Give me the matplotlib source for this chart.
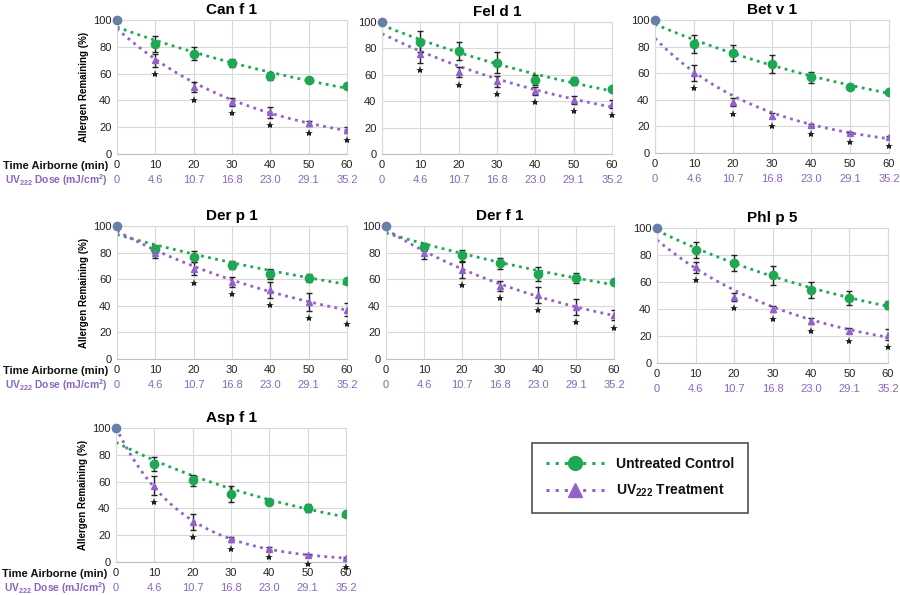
import numpy as np
import matplotlib
matplotlib.use("Agg")
from matplotlib import pyplot as plt
from matplotlib.lines import Line2D

plt.rcParams['font.family'] = ['Liberation Sans', 'DejaVu Sans']
plt.rcParams['mathtext.fontset'] = 'custom'
plt.rcParams['mathtext.rm'] = 'Liberation Sans'
plt.rcParams['mathtext.bf'] = 'Liberation Sans:bold'

GREEN = '#1fa854'
PURPLE = '#9461cc'
DOSE_COL = '#8866c0'
ZERO_COL = '#6880a8'

time_min = [0, 10, 20, 30, 40, 50, 60]
dose_lbl = ['0', '4.6', '10.7', '16.8', '23.0', '29.1', '35.2']

allergens = ['Can f 1', 'Fel d 1', 'Bet v 1', 'Der p 1', 'Der f 1', 'Phl p 5', 'Asp f 1']

ctrl_mean = [
    [100, 82, 75, 68, 58, 55, 51],
    [100, 85, 78, 69, 56, 55, 49],
    [100, 82, 75, 67, 57, 50, 46],
    [100, 83, 77, 71, 64, 61, 59],
    [100, 84, 78, 72, 64, 61, 58],
    [100, 84, 74, 65, 54, 48, 43],
    [100, 73, 61, 51, 45, 40, 36],
]
ctrl_err = [
    [0, 6, 5, 3, 3, 2, 2],
    [0, 8, 7, 8, 4, 3, 2],
    [0, 7, 6, 7, 4, 2, 1],
    [0, 3, 4, 3, 4, 3, 2],
    [0, 3, 4, 4, 5, 4, 2],
    [0, 6, 6, 7, 6, 5, 3],
    [0, 5, 4, 6, 2, 3, 1],
]
uv_mean = [
    [100, 70, 50, 39, 31, 23, 18],
    [100, 76, 62, 55, 48, 41, 38],
    [100, 60, 38, 28, 21, 15, 12],
    [100, 80, 68, 58, 52, 43, 37],
    [100, 80, 67, 55, 48, 39, 33],
    [100, 71, 49, 40, 31, 24, 21],
    [100, 57, 30, 17, 10, 5, 3],
]
uv_err = [
    [0, 5, 4, 3, 4, 2, 2],
    [0, 7, 4, 4, 3, 3, 3],
    [0, 6, 3, 2, 1, 1, 1],
    [0, 4, 5, 4, 6, 7, 5],
    [0, 5, 6, 4, 6, 6, 4],
    [0, 4, 3, 2, 2, 2, 4],
    [0, 7, 6, 2, 1, 1, 1],
]
# significant difference flags (asterisk)
signif = [
    [0, 1, 1, 1, 1, 1, 1],
    [0, 1, 1, 1, 1, 1, 1],
    [0, 1, 1, 1, 1, 1, 1],
    [0, 0, 1, 1, 1, 1, 1],
    [0, 0, 1, 1, 1, 1, 1],
    [0, 1, 1, 1, 1, 1, 1],
    [0, 1, 1, 1, 1, 1, 1],
]

# axes boxes in pixels: x0, x60, y100, y0
boxes = [
    (117, 347, 20, 154),
    (382, 612, 22, 154),
    (655, 889, 20, 153),
    (117, 347, 226, 359),
    (386, 614, 226, 359),
    (657, 888, 228, 363),
    (116, 346, 428, 562),
]
W, H = 900, 595

fig = plt.figure(figsize=(9, 5.95), dpi=100)

def exp_trend(x, y):
    k, b = np.polyfit(x, np.log(y), 1)
    xs = np.linspace(0, 60, 200)
    return xs, np.exp(b + k * xs)

for i, name in enumerate(allergens):
    x0, x1, y1, y0 = boxes[i]
    ax = fig.add_axes([x0 / W, 1 - y0 / H, (x1 - x0) / W, (y0 - y1) / H])
    t = np.array(time_min)
    c = np.array(ctrl_mean[i])
    u = np.array(uv_mean[i])
    ce = np.array(ctrl_err[i])
    ue = np.array(uv_err[i])

    xs, ct = exp_trend(t, c)
    ax.plot(xs, ct, color=GREEN, lw=2, ls=(0, (1, 1.6)), zorder=2)
    xs, ut = exp_trend(t, u)
    ax.plot(xs, ut, color=PURPLE, lw=2, ls=(0, (1, 1.6)), zorder=2)

    ax.errorbar(t[1:], c[1:], yerr=ce[1:], fmt='o', color=GREEN, ms=6,
                ecolor='#222222', elinewidth=1, capsize=2.5, capthick=1, zorder=4)
    ax.errorbar(t[1:], u[1:], yerr=ue[1:], fmt='^', color=PURPLE, ms=5,
                ecolor='#222222', elinewidth=1, capsize=2.5, capthick=1, zorder=4)
    ax.plot(t[0], c[0], 'o', color=ZERO_COL, ms=6, zorder=5, clip_on=False)

    for j in range(len(t)):
        if signif[i][j]:
            ax.plot(t[j], u[j] - ue[j] - 5.5, marker='*', color='#222222', ms=6,
                    mew=0, ls='none', zorder=5, clip_on=False)

    ax.set_xlim(0, 60)
    ax.set_ylim(0, 100)
    ax.set_xticks(time_min)
    ax.set_yticks([0, 20, 40, 60, 80, 100])
    ax.tick_params(length=0, labelsize=8, pad=4, colors='#222222')
    ax.grid(True, color='#d9d9d9', lw=0.8)
    ax.set_axisbelow(True)
    for s in ax.spines.values():
        s.set_color('#d9d9d9')
        s.set_linewidth(0.8)
    ax.spines['bottom'].set_color('#bfbfbf')
    ax.set_title(name, fontsize=11, fontweight='bold', pad=4)

    for j, d in enumerate(dose_lbl):
        ax.annotate(d, xy=(time_min[j], 0), xycoords=('data', 'axes fraction'),
                    xytext=(0, -19), textcoords='offset points',
                    ha='center', va='center', fontsize=8, color=DOSE_COL)

    if x0 < 200:
        ax.set_ylabel('Allergen Remaining (%)', fontsize=7, fontweight='bold', labelpad=3)
        ax.annotate('Time Airborne (min)', xy=(0, 0), xycoords='axes fraction',
                    xytext=(-6.5, -8.5), textcoords='offset points', ha='right', va='center',
                    fontsize=8, fontweight='bold', color='#111111')
        ax.annotate(r'UV$_{\mathbf{222}}$ Dose (mJ/cm$^{\mathbf{2}}$)', xy=(0, 0),
                    xycoords='axes fraction', xytext=(-6.5, -19), textcoords='offset points',
                    ha='right', va='center', fontsize=7.4, fontweight='bold', color=DOSE_COL)

handles = [
    Line2D([], [], color=GREEN, lw=2.2, ls=(0, (1, 2)), marker='o', ms=10),
    Line2D([], [], color=PURPLE, lw=2.2, ls=(0, (1, 2)), marker='^', ms=10),
]
labels = ['Untreated Control', r'UV$_{\mathbf{222}}$ Treatment']
leg = fig.legend(handles, labels, loc='center', bbox_to_anchor=(640 / W, 1 - 478 / H),
                 frameon=True, fancybox=False, edgecolor='#222222', handlelength=4.2,
                 prop={'size': 10, 'weight': 'bold'}, borderpad=1.0, labelspacing=0.9,
                 numpoints=1, handletextpad=0.8, borderaxespad=0)
leg.get_frame().set_linewidth(1.2)
for txt in leg.get_texts():
    txt.set_color('#111111')

fig.savefig('out.png', dpi=100)
